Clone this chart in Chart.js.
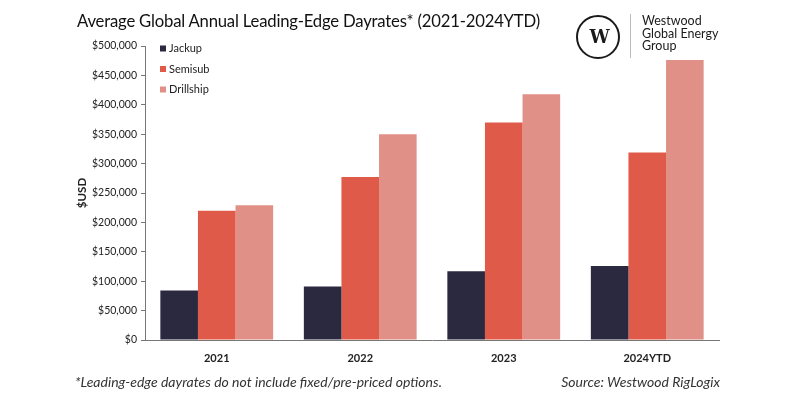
<!DOCTYPE html>
<html>
<head>
<meta charset="utf-8">
<script src="https://cdn.jsdelivr.net/npm/chart.js@4/dist/chart.umd.min.js"></script>
<style>
  html, body { margin:0; padding:0; background:#fff; }
  #wrap { position:relative; width:787px; height:399px; overflow:hidden; font-family:Lato, "Open Sans", sans-serif; }
  #c { position:absolute; left:0; top:0; }
  .title { position:absolute; left:77px; top:11px; font-size:16.7px; color:#111; white-space:nowrap; letter-spacing:-0.2px; }
  .logo-circle { position:absolute; left:576px; top:15px; width:40px; height:40px; border:2px solid #1a1a1a; border-radius:50%; }
  .logo-w { position:absolute; left:576px; top:15px; width:44px; height:44px; line-height:44px; text-align:center; font-family:"DejaVu Serif", "Liberation Serif", serif; font-weight:bold; font-size:18px; color:#1a1a1a; letter-spacing:-3px; }
  .logo-line { position:absolute; left:630px; top:14px; width:1px; height:44px; background:#bbb; }
  .logo-text { position:absolute; left:642px; top:15px; font-size:12.5px; line-height:12.7px; color:#1a1a1a; }
  .foot { position:absolute; top:373px; font-size:14px; font-style:italic; color:#333; white-space:nowrap; }
</style>
</head>
<body>
<div id="wrap">
  <canvas id="c" width="787" height="399"></canvas>
  <div class="title">Average Global Annual Leading-Edge Dayrates* (2021-2024YTD)</div>
  <div class="logo-circle"></div>
  <div class="logo-w">W</div>
  <div class="logo-line"></div>
  <div class="logo-text">Westwood<br>Global Energy<br>Group</div>
  <div class="foot" style="left:75px;">*Leading-edge dayrates do not include fixed/pre-priced options.</div>
  <div class="foot" style="right:67px;">Source: Westwood RigLogix</div>
</div>
<script>
const categories = ["2021", "2022", "2023", "2024YTD"];
const jackup    = [84000, 91000, 117000, 126000];
const semisub   = [220000, 277000, 370000, 319000];
const drillship = [229000, 350000, 418000, 476000];
const seriesNames = ["Jackup", "Semisub", "Drillship"];
const seriesColors = ["#2b2940", "#e05a49", "#e19087"];

const legendInside = {
  id: 'legendInside',
  afterDraw(chart) {
    const ctx = chart.ctx;
    ctx.save();
    ctx.font = '11px Lato, sans-serif';
    ctx.textBaseline = 'middle';
    chart.data.datasets.forEach((ds, i) => {
      const y = 48.5 + i * 20.5;
      ctx.fillStyle = ds.backgroundColor;
      ctx.fillRect(160, y - 3, 6, 6);
      ctx.fillStyle = '#222';
      ctx.fillText(ds.label, 169, y);
    });
    ctx.restore();
  }
};

new Chart(document.getElementById('c'), {
  type: 'bar',
  data: {
    labels: categories,
    datasets: [
      { label: seriesNames[0], data: jackup, backgroundColor: seriesColors[0] },
      { label: seriesNames[1], data: semisub, backgroundColor: seriesColors[1] },
      { label: seriesNames[2], data: drillship, backgroundColor: seriesColors[2] }
    ]
  },
  options: {
    responsive: false,
    animation: false,
    layout: { padding: { left: 75, right: 68, top: 46, bottom: 34 } },
    datasets: { bar: { categoryPercentage: 0.786, barPercentage: 1.0 } },
    plugins: { legend: { display: false }, tooltip: { enabled: false } },
    scales: {
      x: {
        grid: { display: false },
        border: { display: true, color: '#777', width: 1 },
        ticks: { color: '#222', font: { family: 'Lato', size: 11, weight: 'bold' }, padding: 4 },
        afterFit(s) { s.height = 25; }
      },
      y: {
        min: 0, max: 500000,
        grid: { display: true, drawOnChartArea: false, drawTicks: true, tickLength: 4, color: '#777' },
        border: { display: true, color: '#777', width: 1 },
        ticks: {
          stepSize: 50000, color: '#222', padding: 4,
          font: { family: 'Lato', size: 10.5 },
          callback: v => '$' + v.toLocaleString('en-US')
        },
        title: { display: true, text: '$USD', color: '#222', font: { family: 'Lato', size: 11.5, weight: 'bold' }, padding: 0 },
        afterFit(s) { s.width = 70; }
      }
    }
  },
  plugins: [legendInside]
});
</script>
</body>
</html>
